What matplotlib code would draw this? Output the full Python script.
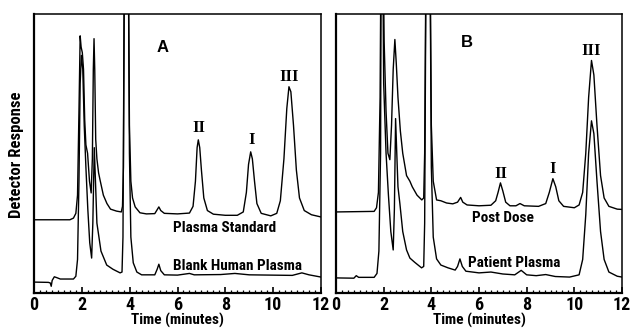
"""
Chromatograms of the plasma extracts: (A) plasma standard vs. blank human
plasma, (B) post-dose vs. patient plasma. Peaks I-III are labelled.

Detector response is in arbitrary units (0-100 = full height of the panel);
the solvent-front peaks near 2 and 4 min run off scale.
"""

import matplotlib
matplotlib.use("Agg")
import matplotlib.pyplot as plt
from matplotlib.ticker import MultipleLocator

# ---------------------------------------------------------------------------
# Traces (time in minutes, response in arbitrary units)
# ---------------------------------------------------------------------------

std_t = [0.0, 1.5, 1.65, 1.75, 1.82, 1.88, 1.93, 1.97, 2.02, 2.07, 2.12, 2.17,
         2.24, 2.32, 2.39, 2.44, 2.48, 2.51, 2.54, 2.58, 2.63, 2.7, 2.76, 2.9,
         3.05, 3.2, 3.45, 3.65, 3.7, 3.74, 3.79, 3.93, 3.99, 4.05, 4.12, 4.23,
         4.43, 4.7, 5.05, 5.15, 5.22, 5.3, 5.45, 6.0, 6.5, 6.65, 6.75, 6.82,
         6.87, 6.93, 7.0, 7.1, 7.25, 7.5, 8.0, 8.5, 8.75, 8.88, 8.97, 9.06,
         9.13, 9.22, 9.32, 9.5, 9.9, 10.15, 10.3, 10.45, 10.57, 10.66, 10.74,
         10.85, 10.97, 11.1, 11.3, 11.6, 12.0]
std_y = [26.2, 26.2, 26.8, 28.5, 35, 65, 92, 88, 86, 80, 62, 53,
         50, 40, 35.8, 48, 80, 91, 80, 55, 48, 43, 40.5, 35,
         32, 30, 29.3, 29, 31, 45, 140, 140, 60, 40, 34, 30.8,
         28.7, 28.3, 28.4, 29.8, 30.8, 29.5, 28.5, 28.3, 28.6, 31, 40, 52,
         54.8, 52, 44, 34, 29.5, 28.2, 27.8, 27.8, 29, 36, 46, 50.5,
         48, 40, 32, 28.5, 27.6, 28.5, 33, 48, 66, 73.8, 72,
         60, 44, 34, 29.5, 28, 27.2]

blank_t = [0.0, 0.6, 0.68, 0.72, 0.76, 0.85, 0.95, 1.1, 1.65, 1.75, 1.82,
           1.88, 1.93, 1.98, 2.04, 2.1, 2.17, 2.25, 2.33, 2.41, 2.46, 2.52,
           2.57, 2.63, 2.69, 2.8, 3.04, 3.3, 3.6, 3.68, 3.72, 3.79, 3.93,
           3.99, 4.05, 4.15, 4.3, 4.5, 5.05, 5.15, 5.22, 5.3, 5.45, 6.0, 6.5,
           6.7, 7.8, 8.4, 9.0, 10.8, 11.2, 11.5, 12.0]
blank_y = [3.9, 3.8, 3.6, 2.4, 4.5, 5.8, 5.5, 5.0, 5.0, 6.0, 12,
           40, 75, 85, 80, 60, 45, 30, 18, 12.5, 25, 52,
           40, 25, 21.5, 15, 10, 8.5, 7.2, 7.5, 20, 140, 140,
           50, 20, 10.8, 7.5, 6.5, 6.5, 8.5, 10.3, 8, 6.5, 6.4, 7.0,
           6.5, 6.6, 7.0, 6.5, 6.3, 7.2, 6.5, 5.7]

post_t = [0.0, 1.6, 1.7, 1.78, 1.85, 1.9, 1.96, 2.02, 2.1, 2.18, 2.26, 2.33,
          2.4, 2.47, 2.53, 2.6, 2.7, 2.8, 2.96, 3.1, 3.2, 3.4, 3.6, 3.68,
          3.72, 3.79, 3.93, 4.0, 4.08, 4.22, 4.4, 4.64, 4.9, 5.1, 5.23, 5.32,
          5.5, 6.0, 6.5, 6.7, 6.8, 6.9, 7.0, 7.12, 7.3, 7.55, 7.72, 7.9, 8.5,
          8.8, 8.95, 9.1, 9.22, 9.35, 9.55, 10.0, 10.2, 10.35, 10.48, 10.6,
          10.72, 10.82, 10.95, 11.1, 11.25, 11.45, 11.8, 12.0]
post_y = [29.0, 29.2, 30.5, 36, 70, 140, 140, 90, 65, 50, 47.7, 60,
          80, 90.7, 82, 70, 58, 50, 42, 40, 38, 35, 33.3, 34,
          50, 140, 140, 60, 40, 33.3, 33, 32.2, 31.9, 32.5, 34.2, 32.5,
          31.5, 31.2, 31.4, 33, 36, 39.4, 36.5, 32.5, 31.2, 31.2, 32.0, 31.2, 31.0,
          32, 36, 40.9, 38, 33, 31, 30.5, 31.5, 36, 50, 70,
          83.2, 78, 60, 42, 34, 31, 30, 29.9]

patient_t = [0.0, 0.75, 0.85, 0.95, 1.6, 1.72, 1.8, 1.87, 1.9, 1.95, 2.0,
             2.1, 2.2, 2.3, 2.4, 2.45, 2.5, 2.55, 2.6, 2.68, 2.8, 2.96, 3.1,
             3.3, 3.59, 3.68, 3.72, 3.79, 3.93, 4.0, 4.08, 4.22, 4.4, 4.7,
             5.0, 5.1, 5.2, 5.3, 5.45, 6.0, 6.5, 7.0, 7.5, 7.77, 8.0, 8.4,
             8.8, 9.2, 9.8, 10.2, 10.35, 10.48, 10.6, 10.72, 10.82, 10.95,
             11.1, 11.25, 11.45, 11.8, 12.0]
patient_y = [5.4, 5.3, 6.2, 5.6, 5.6, 7, 15, 50, 140, 140, 75,
             50, 35, 22, 15.4, 30, 62.4, 50, 38, 32, 22, 15.4, 12.5,
             11, 9.0, 9.5, 25, 140, 140, 45, 20, 12.2, 10, 9.0,
             8.2, 9.5, 12.2, 9.5, 7.8, 7.2, 7.5, 6.8, 6.5, 8.1, 6.5, 6.2,
             6.6, 5.9, 5.7, 6.5, 12, 28, 50, 61.6, 57, 40,
             22, 12, 7.5, 6, 5.7]

# Peak labels (time, height) and trace names (time, height)
peak_names = ["II", "I", "III"]
peaks_a = [(6.9, 59.0), (9.11, 54.7), (10.66, 77.3)]
peaks_b = [(6.9, 42.6), (9.11, 44.4), (10.72, 86.7)]

traces_a = ["Plasma Standard", "Blank Human Plasma"]
names_a = [(7.98, 23.3), (8.49, 9.7)]
traces_b = ["Post Dose", "Patient Plasma"]
names_b = [(7.02, 26.8), (7.47, 10.7)]

NARROW = "Roboto Condensed"


# ---------------------------------------------------------------------------
# Drawing
# ---------------------------------------------------------------------------

def draw_panel(ax, traces, tag, tag_pos, peak_pos, names, name_pos):
    for t, y in traces:
        ax.plot(t, y, color="black", lw=1.0, solid_joinstyle="round")

    ax.set_xlim(0, 12)
    ax.set_ylim(0, 100)
    ax.set_yticks([])
    ax.xaxis.set_major_locator(MultipleLocator(2))
    ax.xaxis.set_minor_locator(MultipleLocator(0.25))
    ax.tick_params(axis="x", which="major", direction="in", length=4,
                   width=1.2, pad=2.5)
    ax.tick_params(axis="x", which="minor", direction="in", length=2.2,
                   width=0.9)
    for lab in ax.get_xticklabels():
        lab.set_family(NARROW)
        lab.set_fontweight("bold")
        lab.set_fontsize(13)
    ax.set_xlabel("Time (minutes)", family=NARROW, fontweight="bold",
                  fontsize=11, labelpad=-1)

    for side in ("left", "bottom"):
        ax.spines[side].set_linewidth(1.6)
    for side in ("top", "right"):
        ax.spines[side].set_linewidth(1.1)

    ax.text(*tag_pos, tag, fontsize=12, fontweight="bold",
            family="Liberation Sans", ha="center", va="center")
    for name, (x, y) in zip(peak_names, peak_pos):
        ax.text(x, y, name, fontsize=12, fontweight="bold",
                family="Liberation Serif", ha="center", va="center")
    for name, (x, y) in zip(names, name_pos):
        ax.text(x, y, name, fontsize=11, fontweight="bold",
                family=NARROW, ha="center", va="center")


def main() -> None:
    fig = plt.figure(figsize=(6.3, 3.28), dpi=100)
    ax_a = fig.add_axes([34 / 630, 35 / 328, 287 / 630, 279.5 / 328])
    ax_b = fig.add_axes([336 / 630, 35 / 328, 286 / 630, 279.5 / 328])

    draw_panel(ax_a, [(std_t, std_y), (blank_t, blank_y)], "A", (5.39, 88.0),
               peaks_a, traces_a, names_a)
    draw_panel(ax_b, [(post_t, post_y), (patient_t, patient_y)], "B",
               (5.48, 89.6), peaks_b, traces_b, names_b)

    fig.text(17 / 630, 1 - 155 / 328, "Detector Response", rotation=90,
             family=NARROW, fontweight="bold", fontsize=12,
             ha="center", va="center")

    fig.savefig("out.png", dpi=100)
    plt.close(fig)


if __name__ == "__main__":
    main()
